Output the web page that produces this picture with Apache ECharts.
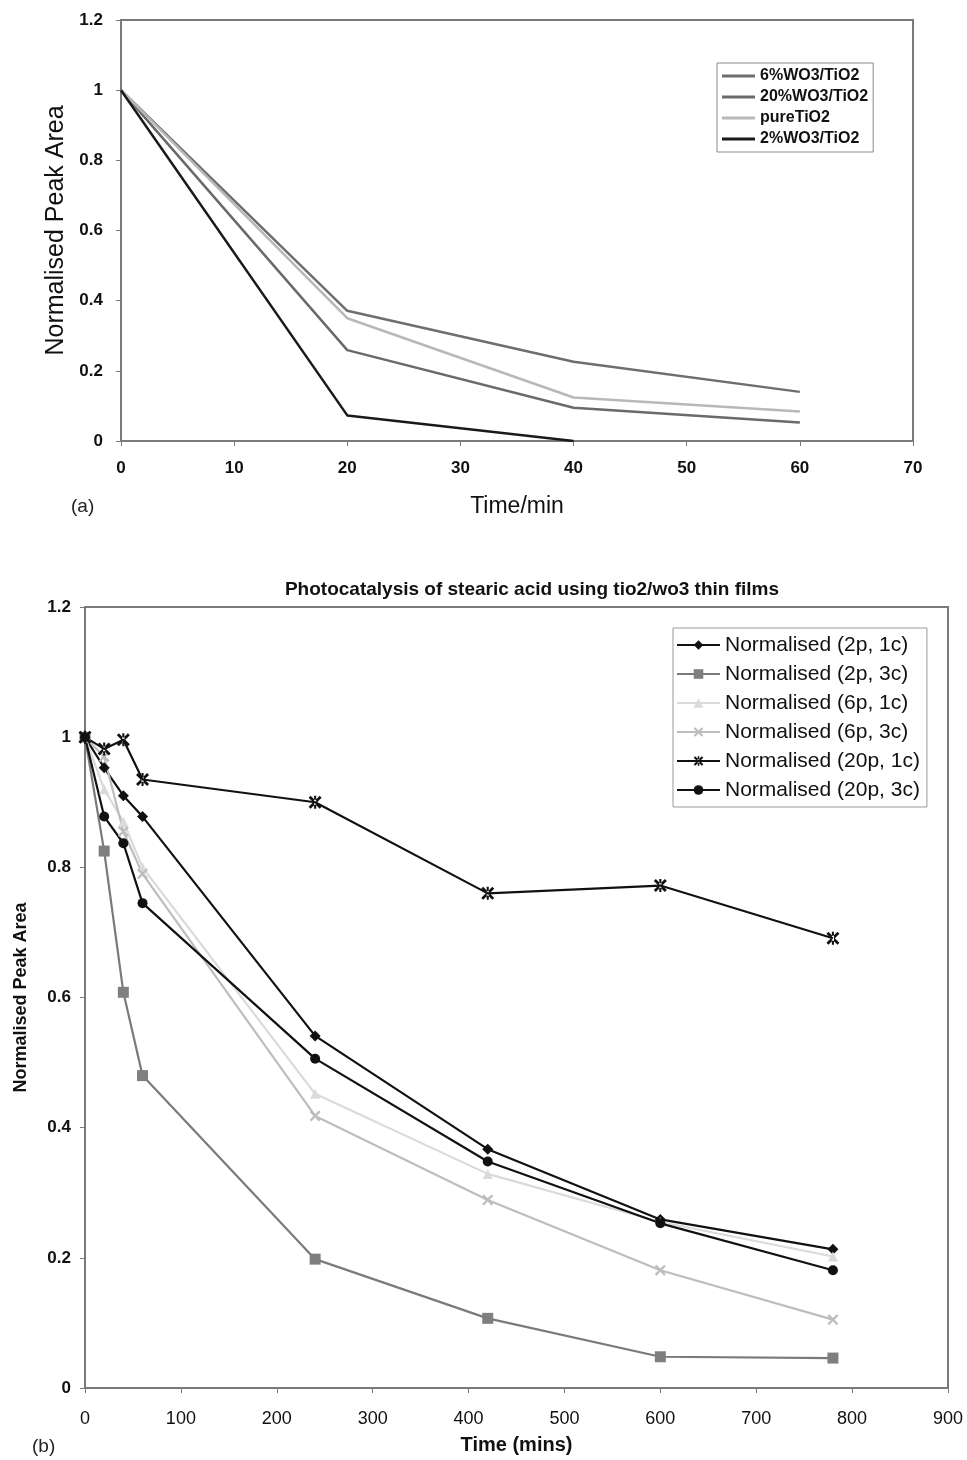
<!DOCTYPE html>
<html style="height: 100%">
<head>
<meta charset="utf-8">
<style type="text/css">
  body, html { width: 100%; height: 100%; margin: 0; background: #fff; }
  #chart { width: 967px; height: 1460px; }
</style>
</head>
<body>
<div id="chart"></div>
<script type="text/javascript" src="https://cdn.jsdelivr.net/npm/echarts@6/dist/echarts.min.js"></script>
<script type="text/javascript">
// ---- (a) data ----
var timeA = [0, 20, 40, 60];
var wo3_6 = [1, 0.371, 0.226, 0.14];
var wo3_20 = [1, 0.259, 0.095, 0.053];
var pureTiO2 = [1, 0.35, 0.124, 0.084];
var wo3_2 = [1, 0.073, 0];
var namesA = ['6%WO3/TiO2', '20%WO3/TiO2', 'pureTiO2', '2%WO3/TiO2'];

// ---- (b) data ----
var timeB = [0, 20, 40, 60, 240, 420, 600, 780];
var p2c1 = [1, 0.953, 0.910, 0.878, 0.541, 0.367, 0.259, 0.213];
var p2c3 = [1, 0.825, 0.608, 0.480, 0.198, 0.107, 0.048, 0.046];
var p6c1 = [1, 0.92, 0.87, 0.80, 0.452, 0.329, 0.255, 0.202];
var p6c3 = [1, 0.97, 0.855, 0.79, 0.418, 0.289, 0.181, 0.105];
var p20c1 = [1, 0.982, 0.996, 0.935, 0.90, 0.76, 0.772, 0.691];
var p20c3 = [1, 0.878, 0.837, 0.745, 0.506, 0.348, 0.253, 0.181];
var namesB = ['Normalised (2p, 1c)', 'Normalised (2p, 3c)', 'Normalised (6p, 1c)',
              'Normalised (6p, 3c)', 'Normalised (20p, 1c)', 'Normalised (20p, 3c)'];

function pairs(xs, ys) {
  var out = [];
  for (var i = 0; i < ys.length; i++) out.push([xs[i], ys[i]]);
  return out;
}

var narrow = '"Liberation Sans Narrow", "Liberation Sans", Arial, sans-serif';
var arial = '"Liberation Sans", Arial, sans-serif';
var boxColor = '#7a7a7a';

var xMark = 'path://M0,1.5 L1.5,0 L5,3.5 L8.5,0 L10,1.5 L6.5,5 L10,8.5 L8.5,10 L5,6.5 L1.5,10 L0,8.5 L3.5,5 Z';
var starMark = 'path://M0,1.5 L1.5,0 L5,3.5 L8.5,0 L10,1.5 L6.5,5 L10,8.5 L8.5,10 L5,6.5 L1.5,10 L0,8.5 L3.5,5 Z M4.2,0 L4.2,10 L5.8,10 L5.8,0 Z';

function lineA(name, data, color, w) {
  return {
    name: name, type: 'line', xAxisIndex: 0, yAxisIndex: 0,
    symbol: 'none', data: pairs(timeA, data),
    lineStyle: { color: color, width: w }, itemStyle: { color: color },
    animation: false
  };
}
function lineB(name, data, color, sym, size, symColor) {
  return {
    name: name, type: 'line', xAxisIndex: 1, yAxisIndex: 1,
    symbol: sym, symbolSize: size, showAllSymbol: true,
    data: pairs(timeB, data),
    lineStyle: { color: color, width: 2.2 },
    itemStyle: { color: symColor || color, borderWidth: 0 },
    animation: false
  };
}

var chart = echarts.init(document.getElementById('chart'));
var option = {
  backgroundColor: '#fff',
  title: {
    text: 'Photocatalysis of stearic acid using tio2/wo3 thin films',
    left: 527, top: 575, textAlign: 'center',
    textStyle: { fontFamily: arial, fontSize: 19, fontWeight: 'bold', color: '#111' }
  },
  graphic: [
    { type: 'text', left: 71, top: 497, style: { text: '(a)', font: '19px ' + arial, fill: '#222' } },
    { type: 'text', left: 32, top: 1437, style: { text: '(b)', font: '19px ' + arial, fill: '#222' } }
  ],
  legend: [{
    data: namesA, orient: 'vertical', left: 717, top: 63,
    icon: 'rect', itemWidth: 33, itemHeight: 3, itemGap: 5,
    padding: [5, 5, 5, 5],
    borderColor: '#888', borderWidth: 1,
    textStyle: { fontFamily: narrow, fontSize: 16, lineHeight: 16, fontWeight: 'bold', color: '#111' }
  }, {
    data: namesB, orient: 'vertical', left: 673, top: 628,
    itemWidth: 43, itemHeight: 12, itemGap: 7,
    padding: [6, 7, 6, 3],
    borderColor: '#999', borderWidth: 1,
    textStyle: { fontFamily: arial, fontSize: 21, color: '#111', lineHeight: 22 }
  }],
  grid: [
    { left: 121, top: 20, right: 54, bottom: 1019, show: true, borderColor: boxColor, borderWidth: 2 },
    { left: 85, top: 607, right: 19, bottom: 70, show: true, borderColor: boxColor, borderWidth: 2 }
  ],
  xAxis: [{
    gridIndex: 0, type: 'value', min: 0, max: 70, interval: 10,
    name: 'Time/min', nameLocation: 'middle', nameGap: 54,
    nameTextStyle: { fontFamily: narrow, fontSize: 23, color: '#111' },
    axisLine: { lineStyle: { color: boxColor, width: 2 } },
    axisTick: { show: true, length: 5, lineStyle: { color: boxColor } },
    axisLabel: { margin: 19, fontFamily: narrow, fontSize: 17, fontWeight: 'bold', color: '#111' },
    splitLine: { show: false }
  }, {
    gridIndex: 1, type: 'value', min: 0, max: 900, interval: 100,
    name: 'Time (mins)', nameLocation: 'middle', nameGap: 47,
    nameTextStyle: { fontFamily: arial, fontSize: 20, fontWeight: 'bold', color: '#111' },
    axisLine: { lineStyle: { color: boxColor, width: 2 } },
    axisTick: { show: true, length: 5, lineStyle: { color: boxColor } },
    axisLabel: { margin: 22, fontFamily: arial, fontSize: 18, color: '#111' },
    splitLine: { show: false }
  }],
  yAxis: [{
    gridIndex: 0, type: 'value', min: 0, max: 1.2, interval: 0.2,
    name: 'Normalised Peak Area', nameLocation: 'middle', nameGap: 50,
    nameTextStyle: { fontFamily: narrow, fontSize: 25, color: '#111' },
    axisLine: { show: true, lineStyle: { color: boxColor, width: 2 } },
    axisTick: { show: true, length: 5, lineStyle: { color: boxColor } },
    axisLabel: { margin: 18, fontFamily: narrow, fontSize: 17, fontWeight: 'bold', color: '#111' },
    splitLine: { show: false }
  }, {
    gridIndex: 1, type: 'value', min: 0, max: 1.2, interval: 0.2,
    name: 'Normalised Peak Area', nameLocation: 'middle', nameGap: 55,
    nameTextStyle: { fontFamily: narrow, fontSize: 18, fontWeight: 'bold', color: '#111' },
    axisLine: { show: true, lineStyle: { color: boxColor, width: 2 } },
    axisTick: { show: true, length: 5, lineStyle: { color: boxColor } },
    axisLabel: { margin: 14, fontFamily: arial, fontSize: 17, fontWeight: 'bold', color: '#111' },
    splitLine: { show: false }
  }],
  series: [
    lineA(namesA[0], wo3_6, '#6e6e6e', 2.5),
    lineA(namesA[1], wo3_20, '#6a6a6a', 2.5),
    lineA(namesA[2], pureTiO2, '#b8b8b8', 2.5),
    lineA(namesA[3], wo3_2, '#1a1a1a', 2.5),
    lineB(namesB[0], p2c1, '#111', 'diamond', 11),
    lineB(namesB[1], p2c3, '#7a7a7a', 'rect', 11, '#7f7f7f'),
    lineB(namesB[2], p6c1, '#dadada', 'triangle', 10),
    lineB(namesB[3], p6c3, '#bdbdbd', xMark, 11),
    lineB(namesB[4], p20c1, '#111', starMark, 13),
    lineB(namesB[5], p20c3, '#111', 'circle', 10)
  ]
};
chart.setOption(option);
</script>
</body>
</html>
